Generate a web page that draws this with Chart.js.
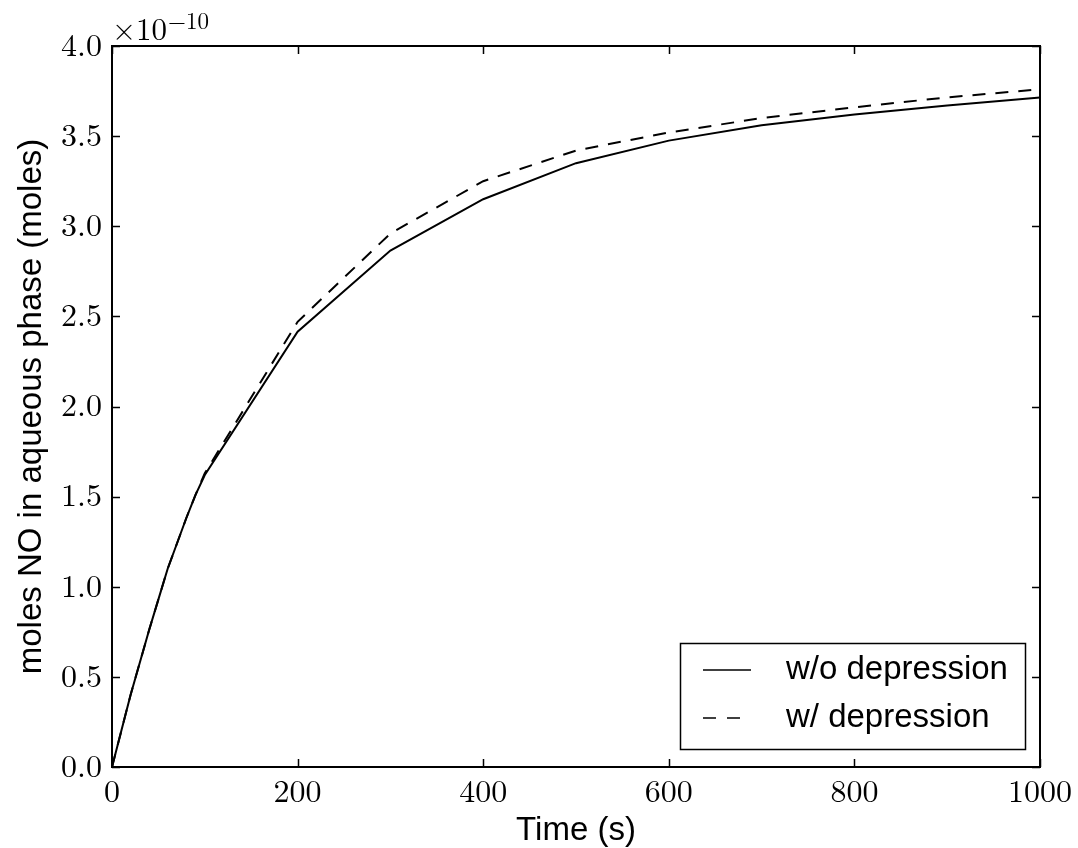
<!DOCTYPE html>
<html>
<head>
<meta charset="utf-8">
<script src="https://cdn.jsdelivr.net/npm/chart.js@4/dist/chart.umd.min.js"></script>
<style>
  html, body { margin: 0; padding: 0; background: #fff; }
  #wrap { width: 1078px; height: 848px; }
</style>
</head>
<body>
<div id="wrap"><canvas id="noChart" width="1078" height="848"></canvas></div>
<script>
// time points (s) and moles NO in aqueous phase, in units of 1e-10 moles
const timeS = [0, 10, 20, 30, 40, 50, 60, 70, 80, 90, 100, 200, 300, 400, 500, 600, 700, 800, 900, 1000];
const noWithout = [0, 0.2, 0.4, 0.58, 0.76, 0.93, 1.1, 1.24, 1.38, 1.51, 1.62, 2.415, 2.865, 3.15, 3.35, 3.475, 3.56, 3.62, 3.67, 3.715];
const noWith = [0, 0.2, 0.4, 0.58, 0.76, 0.93, 1.1, 1.24, 1.38, 1.51, 1.63, 2.47, 2.96, 3.25, 3.42, 3.52, 3.60, 3.66, 3.715, 3.76];
const seriesLabels = ['w/o depression', 'w/ depression'];
const xTicks = [0, 200, 400, 600, 800, 1000];
const yTicks = [0, 0.5, 1.0, 1.5, 2.0, 2.5, 3.0, 3.5, 4.0];

const serif = "'Latin Modern Roman', 'DejaVu Serif', serif";
const sans = "'Liberation Sans', Arial, sans-serif";

// inward ticks on all four sides, full frame, offset text
const frameTicks = {
  id: 'frameTicks',
  afterDraw(chart) {
    const { ctx, chartArea: a, scales } = chart;
    ctx.save();
    ctx.strokeStyle = '#000';
    ctx.lineWidth = 1.5;
    const len = 8;
    xTicks.forEach(v => {
      const px = Math.round(scales.x.getPixelForValue(v)) + 0.5;
      ctx.beginPath();
      ctx.moveTo(px, a.bottom); ctx.lineTo(px, a.bottom - len);
      ctx.moveTo(px, a.top); ctx.lineTo(px, a.top + len);
      ctx.stroke();
    });
    yTicks.forEach(v => {
      const py = Math.round(scales.y.getPixelForValue(v)) + 0.5;
      ctx.beginPath();
      ctx.moveTo(a.left, py); ctx.lineTo(a.left + len, py);
      ctx.moveTo(a.right, py); ctx.lineTo(a.right - len, py);
      ctx.stroke();
    });
    ctx.lineWidth = 2;
    ctx.strokeRect(a.left, a.top, a.right - a.left, a.bottom - a.top);

    // x10^-10 offset label
    ctx.fillStyle = '#000';
    ctx.textBaseline = 'alphabetic';
    ctx.textAlign = 'left';
    ctx.font = '31px ' + serif;
    ctx.fillText('\u00d710', a.left, a.top - 6);
    const w = ctx.measureText('\u00d710').width;
    ctx.font = '23px ' + serif;
    ctx.fillText('\u221210', a.left + w + 1, a.top - 17);
    ctx.restore();
  }
};

// legend box in the lower right corner of the plot area
const innerLegend = {
  id: 'innerLegend',
  afterDraw(chart) {
    const { ctx, chartArea: a } = chart;
    const bw = 345, bh = 106;
    const x0 = a.right - 15 - bw, y0 = a.bottom - 18 - bh;
    ctx.save();
    ctx.fillStyle = '#fff';
    ctx.fillRect(x0, y0, bw, bh);
    ctx.strokeStyle = '#000';
    ctx.lineWidth = 1.5;
    ctx.strokeRect(x0 + 0.5, y0 + 0.5, bw, bh);
    ctx.font = '33px ' + sans;
    ctx.textBaseline = 'middle';
    ctx.fillStyle = '#000';
    chart.data.datasets.forEach((ds, i) => {
      const ly = y0 + 27 + i * 48;
      ctx.beginPath();
      ctx.lineWidth = 1.5;
      ctx.setLineDash(ds.borderDash ? [13, 11] : []);
      ctx.moveTo(x0 + 23, ly);
      ctx.lineTo(x0 + 71, ly);
      ctx.stroke();
      ctx.setLineDash([]);
      ctx.fillText(ds.label, x0 + 106, ly);
    });
    ctx.restore();
  }
};

const config = {
  type: 'line',
  data: {
    datasets: [
      {
        label: seriesLabels[0],
        data: timeS.map((t, i) => ({ x: t, y: noWithout[i] })),
        borderColor: '#000',
        borderWidth: 2,
        pointRadius: 0,
        tension: 0,
        fill: false
      },
      {
        label: seriesLabels[1],
        data: timeS.map((t, i) => ({ x: t, y: noWith[i] })),
        borderColor: '#000',
        borderWidth: 2,
        borderDash: [13, 10],
        pointRadius: 0,
        tension: 0,
        fill: false
      }
    ]
  },
  options: {
    responsive: false,
    animation: false,
    layout: { padding: { top: 46, right: 36, left: 0, bottom: 0 } },
    plugins: {
      legend: { display: false },
      tooltip: { enabled: false }
    },
    scales: {
      x: {
        type: 'linear',
        min: 0,
        max: 1000,
        afterBuildTicks: s => { s.ticks = xTicks.map(v => ({ value: v })); },
        afterFit: s => { s.height = 81; },
        grid: { display: false, drawTicks: false },
        border: { display: false },
        ticks: {
          color: '#000',
          font: { family: serif, size: 32 },
          padding: 6,
          maxRotation: 0,
          callback: v => String(v)
        },
        title: {
          display: true,
          text: 'Time (s)',
          color: '#000',
          font: { family: sans, size: 33 },
          padding: { top: 0, bottom: -3 }
        }
      },
      y: {
        min: 0,
        max: 4.0,
        afterBuildTicks: s => { s.ticks = yTicks.map(v => ({ value: v })); },
        afterFit: s => { s.width = 112; },
        grid: { display: false, drawTicks: false },
        border: { display: false },
        ticks: {
          color: '#000',
          font: { family: serif, size: 32 },
          padding: 10,
          callback: v => Number(v).toFixed(1)
        },
        title: {
          display: true,
          text: 'moles NO in aqueous phase (moles)',
          color: '#000',
          font: { family: sans, size: 33 },
          padding: { top: 12, bottom: 0 }
        }
      }
    }
  },
  plugins: [frameTicks, innerLegend]
};

const noChart = new Chart(document.getElementById('noChart'), config);
</script>
</body>
</html>
